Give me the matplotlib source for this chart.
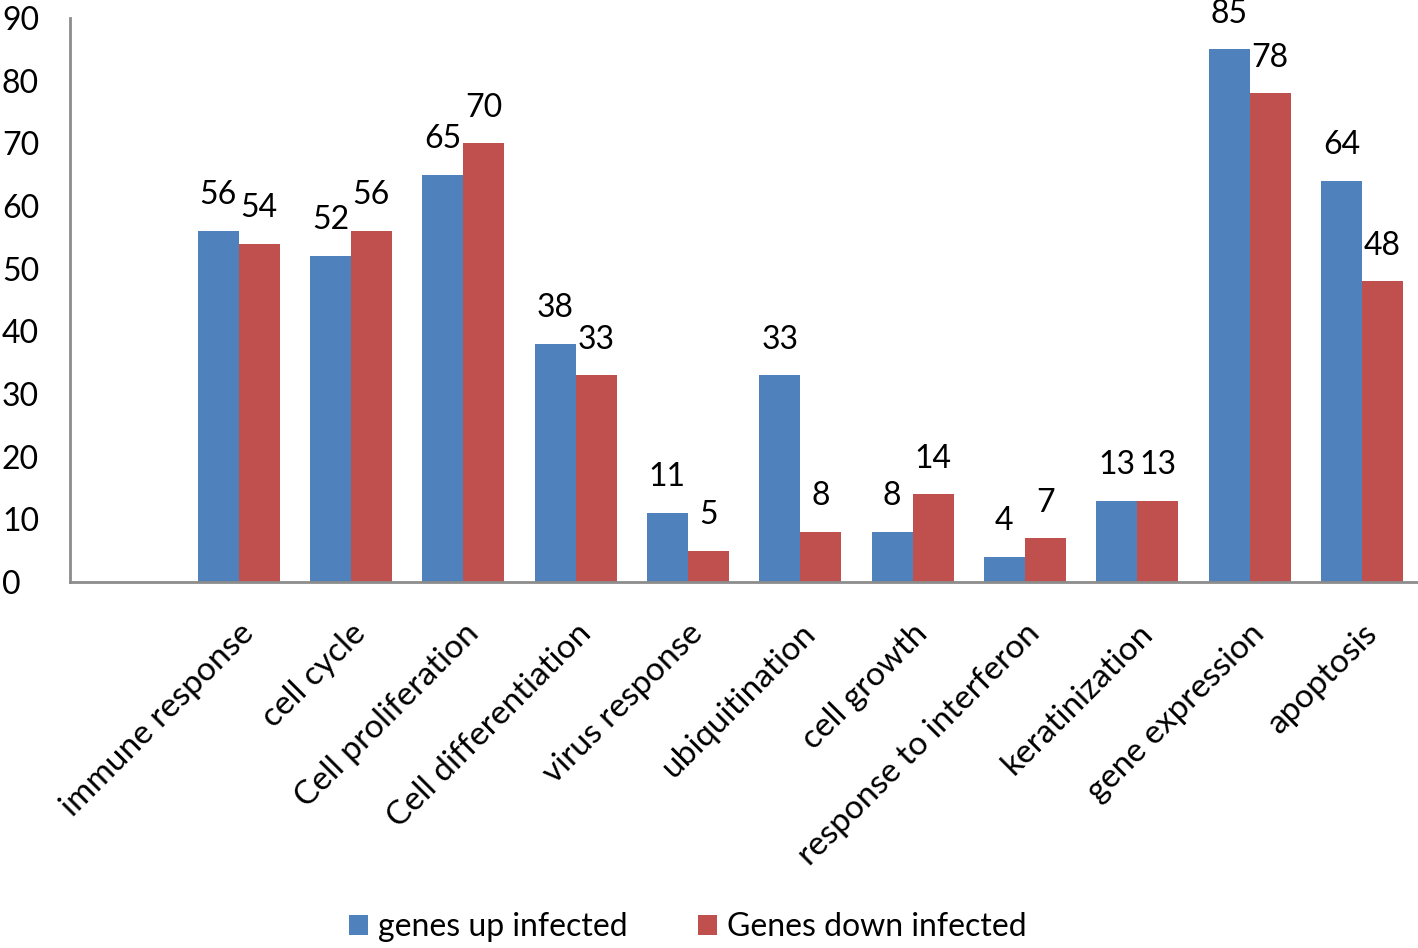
import matplotlib
matplotlib.use("Agg")
import matplotlib.pyplot as plt
import numpy as np

categories = ["", "immune response", "cell cycle", "Cell proliferation", "Cell differentiation",
              "virus response", "ubiquitination", "cell growth", "response to interferon",
              "keratinization", "gene expression", "apoptosis"]
up = [None, 56, 52, 65, 38, 11, 33, 8, 4, 13, 85, 64]
down = [None, 54, 56, 70, 33, 5, 8, 14, 7, 13, 78, 48]

plt.rcParams['font.family'] = ['Lato', 'DejaVu Sans']

fig = plt.figure(figsize=(14.18, 9.48), dpi=100)
ax = fig.add_axes([0.0494, 0.386, 0.9506, 0.595])

x = np.arange(len(categories))
w = 0.365
up_v = [v if v is not None else 0 for v in up]
down_v = [v if v is not None else 0 for v in down]
b1 = ax.bar(x - w / 2, up_v, w, color='#4F81BD', label='genes up infected')
b2 = ax.bar(x + w / 2, down_v, w, color='#C0504D', label='Genes down infected')

fs = 23
for i in range(len(categories)):
    if up[i] is None:
        continue
    ax.text(x[i] - w / 2, up[i] + 3.3, str(up[i]), ha='center', va='bottom', fontsize=fs)
    ax.text(x[i] + w / 2, down[i] + 3.3, str(down[i]), ha='center', va='bottom', fontsize=fs)

ax.set_xlim(-0.5, len(categories) - 0.5)
ax.set_ylim(0, 90)
ax.set_yticks(range(0, 91, 10))
ax.tick_params(axis='y', length=0, labelsize=fs, pad=49)
ax.set_xticks(x)
ax.set_xticklabels(categories, rotation=45, ha='right', va='top', rotation_mode='anchor', fontsize=24)
ax.tick_params(axis='x', length=0, pad=26)
for lab in ax.get_yticklabels():
    lab.set_horizontalalignment('left')

for s in ['top', 'right']:
    ax.spines[s].set_visible(False)
ax.spines['left'].set_color('#8c8c8c')
ax.spines['left'].set_linewidth(2)
ax.spines['bottom'].set_color('#8c8c8c')
ax.spines['bottom'].set_linewidth(2)

fig.legend(handles=[b1, b2], loc='lower center', bbox_to_anchor=(0.485, -0.024), ncol=2,
           frameon=False, fontsize=fs, handlelength=0.6, handleheight=0.6, columnspacing=2.2,
           handletextpad=0.3)

fig.savefig('out.png', dpi=100)
